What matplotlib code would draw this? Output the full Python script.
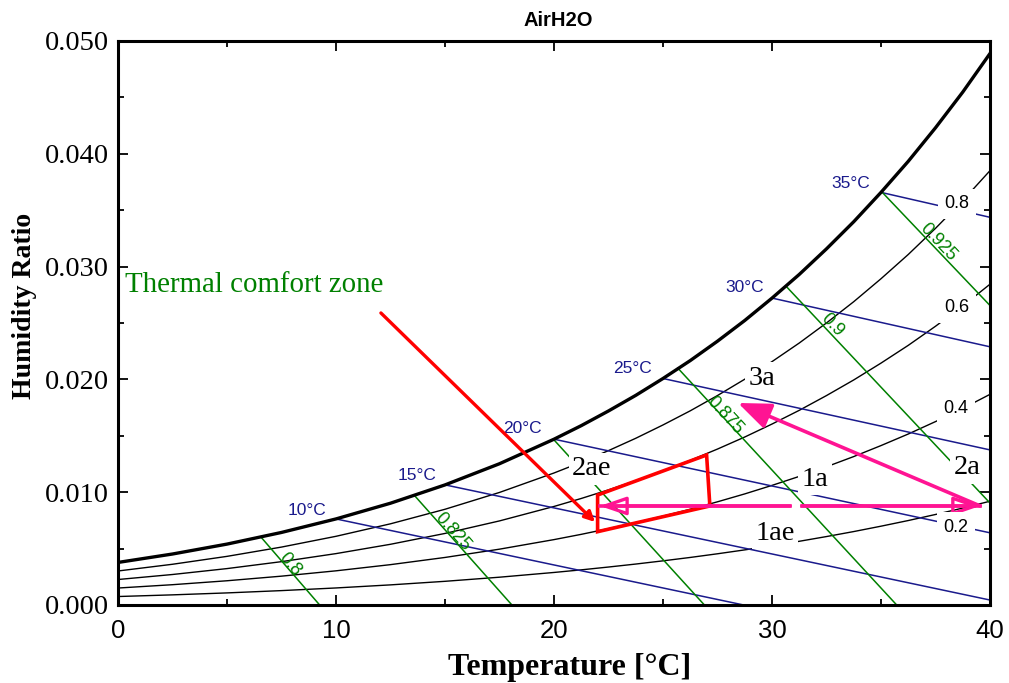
import numpy as np
import matplotlib
matplotlib.use("Agg")
import matplotlib.pyplot as plt
from matplotlib.ticker import FormatStrFormatter

# ---------------- data ----------------
temps = [0, 2.5, 5, 7.5, 10, 12.5, 15, 17.5, 20, 21.25, 22.5, 23.75, 25, 26.25, 27.5, 28.75,
         30, 31.25, 32.5, 33.75, 35, 36.25, 37.5, 38.75, 40]
w_sat = [0.003773, 0.004520, 0.005399, 0.006432, 0.007631, 0.009024, 0.010646, 0.012524,
         0.014698, 0.015900, 0.017203, 0.018585, 0.020081, 0.021668, 0.023389, 0.025223,
         0.027205, 0.029305, 0.031574, 0.033980, 0.036580, 0.039333, 0.042307, 0.045471, 0.048891]
w_rh80 = [0.003015, 0.003611, 0.004312, 0.005135, 0.006090, 0.007198, 0.008487, 0.009979,
          0.011703, 0.012655, 0.013687, 0.014780, 0.015962, 0.017215, 0.018571, 0.020016,
          0.021575, 0.023225, 0.025005, 0.026890, 0.028924, 0.031074, 0.033391, 0.035853, 0.038507]
w_rh60 = [0.002259, 0.002704, 0.003228, 0.003843, 0.004556, 0.005383, 0.006344, 0.007455,
          0.008736, 0.009444, 0.010209, 0.011019, 0.011895, 0.012823, 0.013825, 0.014892,
          0.016042, 0.017258, 0.018567, 0.019952, 0.021444, 0.023018, 0.024712, 0.026508, 0.028440]
w_rh40 = [0.001504, 0.001800, 0.002149, 0.002557, 0.003030, 0.003578, 0.004215, 0.004950,
          0.005797, 0.006264, 0.006769, 0.007303, 0.007880, 0.008490, 0.009149, 0.009849,
          0.010604, 0.011400, 0.012256, 0.013160, 0.014133, 0.015158, 0.016259, 0.017424, 0.018676]
w_rh20 = [0.000751, 0.000899, 0.001072, 0.001276, 0.001511, 0.001784, 0.002100, 0.002465,
          0.002885, 0.003116, 0.003366, 0.003630, 0.003915, 0.004216, 0.004541, 0.004886,
          0.005257, 0.005648, 0.006068, 0.006511, 0.006987, 0.007488, 0.008025, 0.008592, 0.009200]

rh_labels = ["0.8", "0.6", "0.4", "0.2"]
rh_label_x = [38.49, 38.49, 38.44, 38.44]
rh_label_y = [0.03555, 0.02633, 0.01746, 0.00691]

# wet-bulb lines (blue)
wb_temps = [10, 15, 20, 25, 30, 35]
wb_start_w = [0.00763, 0.01065, 0.01470, 0.02008, 0.02721, 0.03658]
wb_end_T = [28.7, 40, 40, 40, 40, 40]
wb_end_w = [0.0, 0.00044, 0.00640, 0.01375, 0.02289, 0.03437]
wb_label_x = [8.67, 13.72, 18.53, 23.58, 28.76, 33.62]
wb_label_y = [0.00842, 0.01152, 0.01569, 0.02101, 0.02819, 0.03741]

# specific-volume lines (green)
sv_values = [0.8, 0.825, 0.85, 0.875, 0.9, 0.925]
sv_start_T = [6.55, 13.58, 19.98, 25.68, 30.65, 35.05]
sv_start_w = [0.00604, 0.00975, 0.01468, 0.02100, 0.02825, 0.03660]
sv_end_T = [9.25, 18.07, 26.90, 35.72, 40, 40]
sv_end_w = [0.0, 0.0, 0.0, 0.0, 0.00904, 0.02655]
sv_labels = ["0.8", "0.825", "0.875", "0.9", "0.925"]
sv_label_idx = [0, 1, 3, 4, 5]
sv_label_x = [7.89, 15.37, 27.84, 32.75, 37.61]
sv_label_y = [0.00355, 0.00647, 0.01684, 0.02482, 0.03218]

# thermal comfort zone polygon
comfort_T = [22.0, 27.0, 27.15, 22.0]
comfort_w = [0.00975, 0.0133, 0.00878, 0.0065]

# pointer from the comfort zone text
pointer_from = (12.06, 0.02589)
pointer_to = (21.88, 0.00736)

# process arrows
left_arrow = ((30.83, 0.00878), (22.1, 0.00878))
right_arrow = ((31.38, 0.00878), (39.55, 0.00878))
diag_arrow = ((39.55, 0.00878), (28.44, 0.01791))

state_labels = ["3a", "2ae", "1a", "1ae", "2a"]
state_x = [29.54, 21.74, 31.97, 30.14, 38.94]
state_y = [0.02012, 0.01206, 0.01117, 0.00638, 0.01215]

x_major = [0, 10, 20, 30, 40]
x_minor = [5, 15, 25, 35]
y_major = [0.0, 0.01, 0.02, 0.03, 0.04, 0.05]
y_minor = [0.005, 0.015, 0.025, 0.035, 0.045]

# ---------------- style ----------------
NAVY = "#1a1a8c"
GREEN = "#008000"
PINK = "#ff1493"
RED = "#ff0000"
SERIF = "Liberation Serif"
SANS = "Liberation Sans"

fig = plt.figure(figsize=(10.09, 6.83), dpi=100)
ax = fig.add_axes([118 / 1009, 78 / 683, 872 / 1009, 564 / 683])
ax.set_xlim(0, 40)
ax.set_ylim(0, 0.05)

# RH curves
ax.plot(temps, w_sat, color="k", lw=2.4, zorder=3, solid_joinstyle="round")
for w in (w_rh80, w_rh60, w_rh40, w_rh20):
    ax.plot(temps, w, color="k", lw=1.0, zorder=2)
for lab, x, y in zip(rh_labels, rh_label_x, rh_label_y):
    ax.text(x, y, lab, ha="center", va="center", fontsize=13, family=SANS, color="k",
            zorder=6, bbox=dict(boxstyle="square,pad=0.35", fc="white", ec="none"))

# wet-bulb lines
for t, w0, t1, w1 in zip(wb_temps, wb_start_w, wb_end_T, wb_end_w):
    ax.plot([t, t1], [w0, w1], color=NAVY, lw=1.1, zorder=2)
for t, x, y in zip(wb_temps, wb_label_x, wb_label_y):
    ax.text(x, y, f"{t}°C", ha="center", va="center", fontsize=12.5, family=SANS,
            color=NAVY, zorder=4)

# specific volume lines
for t0, w0, t1, w1 in zip(sv_start_T, sv_start_w, sv_end_T, sv_end_w):
    ax.plot([t0, t1], [w0, w1], color=GREEN, lw=1.1, zorder=2)
fig.canvas.draw()
for lab, i, x, y in zip(sv_labels, sv_label_idx, sv_label_x, sv_label_y):
    p0 = ax.transData.transform((sv_start_T[i], sv_start_w[i]))
    p1 = ax.transData.transform((sv_end_T[i], sv_end_w[i]))
    ang = np.degrees(np.arctan2(p1[1] - p0[1], p1[0] - p0[0]))
    ax.text(x, y, lab, ha="center", va="center", fontsize=13, family=SANS, color=GREEN,
            rotation=ang, rotation_mode="anchor", zorder=4)

# thermal comfort zone
ax.fill(comfort_T, comfort_w, fill=False, ec=RED, lw=2.6, zorder=5, joinstyle="miter")
ax.annotate("", xy=pointer_to, xytext=pointer_from,
            arrowprops=dict(arrowstyle="-|>,head_length=0.6,head_width=0.3", color=RED,
                            lw=2.4, mutation_scale=10, shrinkA=0, shrinkB=0), zorder=5)
ax.text(0.32, 0.02837, "Thermal comfort zone", ha="left", va="center", fontsize=20.8,
        family=SERIF, color=GREEN, zorder=6)

# process arrows
for (a, b) in (left_arrow, right_arrow):
    ax.plot([a[0], b[0]], [a[1], b[1]], color=PINK, lw=2.6, zorder=5)
    ax.annotate("", xy=b, xytext=a,
                arrowprops=dict(arrowstyle="-|>,head_length=1.6,head_width=0.55", ec=PINK,
                                fc="none", lw=2.4, mutation_scale=10, shrinkA=0, shrinkB=0),
                zorder=5)
ax.annotate("", xy=diag_arrow[1], xytext=diag_arrow[0],
            arrowprops=dict(arrowstyle="-|>,head_length=2.0,head_width=0.8", color=PINK,
                            lw=2.6, mutation_scale=10, shrinkA=0, shrinkB=0), zorder=5)

for lab, x, y in zip(state_labels, state_x, state_y):
    ax.text(x, y, lab, ha="center", va="center", fontsize=20.5, family=SERIF, color="k",
            zorder=6, bbox=dict(boxstyle="square,pad=0.12", fc="white", ec="none"))

# axes styling
ax.set_xticks(x_major)
ax.set_xticks(x_minor, minor=True)
ax.set_yticks(y_major)
ax.set_yticks(y_minor, minor=True)
ax.yaxis.set_major_formatter(FormatStrFormatter("%.3f"))
ax.tick_params(which="both", direction="in", top=True, right=True, width=1.3)
ax.tick_params(which="major", length=7)
ax.tick_params(which="minor", length=4)
ax.tick_params(axis="x", which="major", pad=10, labelsize=18.5, labelfontfamily=SANS)
ax.tick_params(axis="y", which="major", pad=6.5, labelsize=20.5, labelfontfamily=SERIF)
for sp in ax.spines.values():
    sp.set_linewidth(2.2)

ax.set_title("AirH2O", fontsize=14.5, fontweight="bold", family=SANS, pad=10.5)
ax.title.set_x(0.505)
ax.set_xlabel("Temperature [°C]", fontsize=23, fontweight="bold", family=SERIF)
ax.xaxis.label.set_va("center")
ax.xaxis.set_label_coords(0.518, -0.110)
ax.set_ylabel("Humidity Ratio", fontsize=20, fontweight="bold", family=SERIF)
ax.yaxis.label.set_va("center")
ax.yaxis.set_label_coords(-0.107, 0.530)

fig.savefig("out.png", dpi=100)
